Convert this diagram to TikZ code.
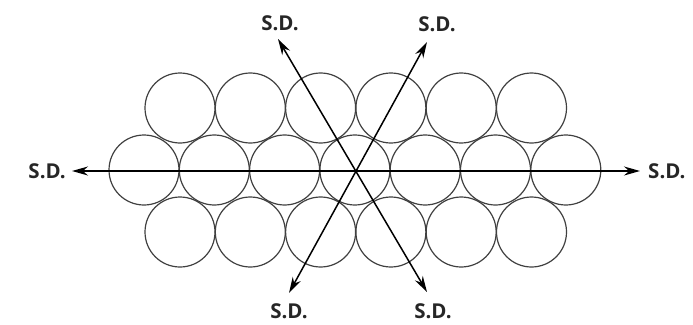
\documentclass[tikz,border=0pt]{standalone}
\usepackage{fontspec}
\setmainfont{Open Sans}
\usetikzlibrary{arrows.meta}

\begin{document}
\begin{tikzpicture}[
  x=1pt, y=-1pt,
  font=\fontsize{20.5}{24}\selectfont,
  ball/.style={draw=black!75, line width=1.2pt, circle, inner sep=0pt,
               minimum size=70pt},
  sd/.style={text=black!85, inner sep=0pt},
  slip/.style={line width=1.5pt, {Stealth[length=16pt,width=9pt]}-{Stealth[length=16pt,width=9pt]}}
]
\useasboundingbox (0,0) rectangle (693,324);
% close-packed rows
\foreach \i in {0,...,6}
  \node[ball] (m\i) at (144+70.3*\i,170) {};
\foreach \i in {0,...,5} {
  \node[ball] (t\i) at (180+70.3*\i,108) {};
  \node[ball] (b\i) at (180+70.3*\i,232) {};
}
% arrow ends
\coordinate (tipW) at (72,171);
\coordinate (tipE) at (640,171);
\coordinate (tipNW) at (278,39);
\coordinate (tipSE) at (427,292);
\coordinate (tipNE) at (427,42);
\coordinate (tipSW) at (289,293);
% labels
\node[sd, anchor=east] (lW) at (66,171) {\textbf{S.D.}};
\node[sd, anchor=west] (lE) at (648,171) {\textbf{S.D.}};
\node[sd] (lNW) at (280,23) {\textbf{S.D.}};
\node[sd] (lNE) at (437,24) {\textbf{S.D.}};
\node[sd] (lSW) at (289,311) {\textbf{S.D.}};
\node[sd] (lSE) at (433,311) {\textbf{S.D.}};
% slip directions
\draw[slip] (tipW) -- (tipE);
\draw[slip] (tipNW) -- (tipSE);
\draw[slip] (tipNE) -- (tipSW);
\end{tikzpicture}
\end{document}
